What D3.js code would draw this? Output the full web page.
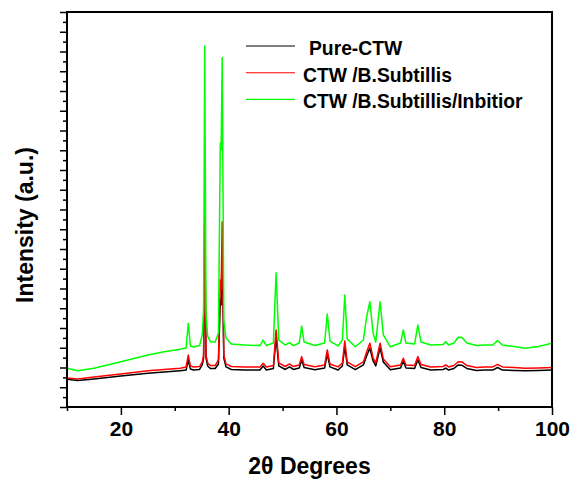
<!DOCTYPE html>
<html>
<head>
<meta charset="utf-8">
<script src="https://cdn.jsdelivr.net/npm/d3@7"></script>
<style>
  html, body { margin: 0; padding: 0; background: #fff; }
  svg { display: block; }
  text { font-family: "Liberation Sans", Arial, sans-serif; font-weight: bold; fill: #000; }
</style>
</head>
<body>
<svg id="chart" width="570" height="479"></svg>
<script>
// XRD patterns: diffraction angle (2θ, degrees) and intensity (a.u.) for each sample
const twoTheta = [10, 12, 15, 20, 25, 28, 31, 32.1, 32.5, 32.9, 33.5, 34.6, 35.1, 35.35, 35.55, 35.8, 36.1, 36.6, 37.5, 38.1, 38.45, 38.6, 38.8, 39.1, 39.5, 40.5, 43, 45.8, 46.4, 47, 48.3, 48.8, 49.3, 50.5, 51.3, 52.0, 53.1, 53.55, 54.0, 56, 57.8, 58.3, 58.8, 60.3, 61.1, 61.55, 62.0, 63.5, 65.0, 65.6, 66.2, 66.8, 67.3, 68.1, 68.7, 70, 71.9, 72.4, 72.9, 74.5, 75.1, 75.7, 77.5, 79.8, 80.3, 80.8, 81.8, 82.6, 83.3, 84.2, 86.0, 87.5, 89.0, 89.9, 90.8, 93, 95, 97.5, 100];

const pureCTW = [140, 134, 142, 157, 171, 177, 184, 187, 238, 192, 187, 190, 213, 248, 856, 248, 208, 195, 195, 218, 542, 516, 785, 248, 203, 190, 187, 187, 208, 187, 195, 354, 208, 190, 203, 190, 197, 238, 200, 189, 197, 268, 203, 187, 208, 305, 213, 189, 213, 258, 299, 233, 208, 299, 228, 189, 197, 233, 197, 195, 238, 200, 187, 190, 197, 187, 195, 213, 211, 195, 185, 187, 187, 200, 187, 185, 184, 185, 187];

const ctwSubtilis = [147, 142, 152, 167, 184, 190, 196, 203, 263, 208, 203, 205, 228, 263, 967, 263, 223, 210, 210, 238, 643, 592, 938, 263, 218, 205, 203, 203, 221, 203, 210, 390, 223, 205, 218, 205, 213, 255, 215, 204, 213, 289, 218, 203, 223, 334, 228, 204, 228, 278, 323, 248, 223, 323, 243, 204, 213, 247, 213, 210, 255, 215, 203, 205, 213, 203, 210, 229, 228, 210, 200, 203, 203, 216, 203, 200, 196, 198, 200];

const ctwSubtilisInhib = [196, 184, 196, 229, 263, 280, 292, 299, 424, 309, 304, 311, 365, 491, 1828, 466, 359, 331, 329, 375, 1337, 1301, 1770, 440, 349, 319, 314, 311, 339, 311, 324, 680, 339, 314, 326, 311, 324, 410, 329, 311, 324, 471, 334, 309, 339, 567, 344, 305, 339, 457, 533, 375, 329, 533, 365, 305, 324, 390, 324, 319, 415, 329, 314, 316, 331, 314, 324, 353, 352, 324, 311, 314, 314, 336, 314, 306, 297, 306, 323];

const seriesNames = ["Pure-CTW", "CTW /B.Subtillis", "CTW /B.Subtillis/Inbitior"];
const seriesColors = ["#000000", "#ff0000", "#00ff00"];
const seriesValues = [pureCTW, ctwSubtilis, ctwSubtilisInhib];

const xTicks = [20, 40, 60, 80, 100];
const xMinorTicks = [10, 30, 50, 70, 90];

const svg = d3.select("#chart");
const plot = { left: 67, right: 552, top: 12, bottom: 407 };

const x = d3.scaleLinear().domain([10, 100]).range([plot.left, plot.right]);
const y = d3.scaleLinear().domain([0, 2000]).range([plot.bottom, plot.top]);

// minor ticks first, so the major ones sit over them
const yMinor = d3.range(50, 2000, 100);
const yMajor = d3.range(0, 2001, 100);

svg.append("g")
  .attr("transform", `translate(${plot.left},0)`)
  .call(d3.axisLeft(y).tickValues(yMinor).tickSize(4).tickFormat(""))
  .call(g => g.select(".domain").remove())
  .selectAll("line").attr("stroke", "#000").attr("stroke-width", 1.5);

svg.append("g")
  .attr("transform", `translate(${plot.left},0)`)
  .call(d3.axisLeft(y).tickValues(yMajor).tickSize(7).tickFormat(""))
  .call(g => g.select(".domain").remove())
  .selectAll("line").attr("stroke", "#000").attr("stroke-width", 1.5);

svg.append("g")
  .attr("transform", `translate(0,${plot.bottom})`)
  .call(d3.axisBottom(x).tickValues(xMinorTicks).tickSize(4).tickFormat(""))
  .call(g => g.select(".domain").remove())
  .selectAll("line").attr("stroke", "#000").attr("stroke-width", 1.5);

const xAxis = svg.append("g")
  .attr("transform", `translate(0,${plot.bottom})`)
  .call(d3.axisBottom(x).tickValues(xTicks).tickSize(8).tickPadding(6.5).tickFormat(d3.format("d")));
xAxis.select(".domain").remove();
xAxis.selectAll("line").attr("stroke", "#000").attr("stroke-width", 1.5);
xAxis.selectAll("text")
  .style("font-family", "'Liberation Sans', Arial, sans-serif")
  .style("font-weight", "bold")
  .style("font-size", "21px")
  .attr("fill", "#000");

// diffraction curves
const line = d3.line()
  .x(d => x(d[0]))
  .y(d => y(d[1]));

svg.append("defs").append("clipPath").attr("id", "plotClip")
  .append("rect")
  .attr("x", plot.left).attr("y", plot.top)
  .attr("width", plot.right - plot.left).attr("height", plot.bottom - plot.top);

const curves = svg.append("g").attr("clip-path", "url(#plotClip)");
seriesValues.forEach((vals, i) => {
  curves.append("path")
    .datum(twoTheta.map((t, k) => [t, vals[k]]))
    .attr("fill", "none")
    .attr("stroke", seriesColors[i])
    .attr("stroke-width", 1.5)
    .attr("stroke-linejoin", "round")
    .attr("d", line);
});

// frame
svg.append("rect")
  .attr("x", plot.left).attr("y", plot.top)
  .attr("width", plot.right - plot.left).attr("height", plot.bottom - plot.top)
  .attr("fill", "none").attr("stroke", "#000").attr("stroke-width", 2);

// legend
const legend = svg.append("g");
seriesNames.forEach((name, i) => {
  const ly = 46 + i * 26.7;
  legend.append("line")
    .attr("x1", 246).attr("x2", 295)
    .attr("y1", ly).attr("y2", ly)
    .attr("stroke", seriesColors[i]).attr("stroke-width", 1.1);
  legend.append("text")
    .attr("x", i === 0 ? 309 : 303)
    .attr("y", ly + 9)
    .style("font-size", "19.3px")
    .text(name);
});

// axis titles
svg.append("text")
  .attr("x", (plot.left + plot.right) / 2)
  .attr("y", 473.5)
  .attr("text-anchor", "middle")
  .style("font-size", "23px")
  .text("2θ Degrees");

svg.append("text")
  .attr("transform", "translate(33,225) rotate(-90)")
  .attr("text-anchor", "middle")
  .style("font-size", "23px")
  .text("Intensity (a.u.)");
</script>
</body>
</html>
